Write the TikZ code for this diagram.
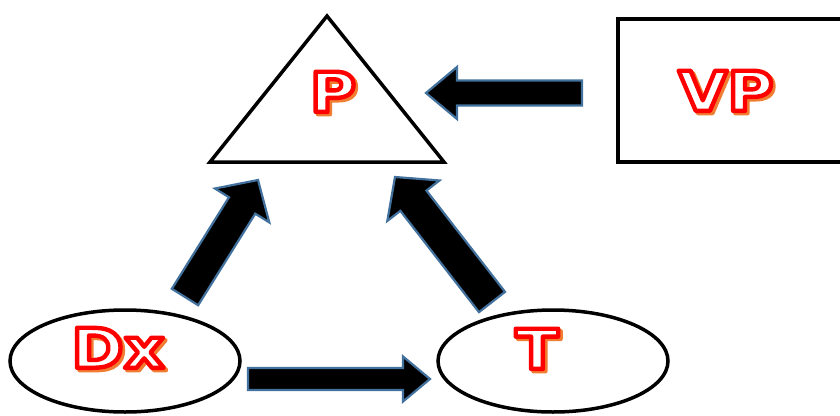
\documentclass[tikz,border=0pt]{standalone}
\usepackage{fontspec}
\usetikzlibrary{calc,shapes.geometric}
\newfontfamily\lblfont[FakeStretch=1.15]{DejaVu Sans}
\definecolor{shadoworange}{RGB}{240,125,50}
\definecolor{arrowedge}{RGB}{65,113,156}
% white letters with a red rim and an orange drop shadow (text render mode 2)
\newcommand{\rimtext}[1]{%
  \rlap{\hspace{2.4pt}\raisebox{-2.4pt}{\color{shadoworange}%
    \special{pdf:literal direct 2 Tr 4.4 w 1 j 0.941 0.490 0.196 RG}#1}}%
  {\color{white}\special{pdf:literal direct 2 Tr 4.4 w 1 j 1 0 0 RG}#1}%
  \special{pdf:literal direct 0 Tr}}
% block arrow from #1 to #2: half shaft #3, half head #4, head length #5
\newcommand{\blockarrow}[5]{%
  \coordinate (hb) at ($(#2)!#5!(#1)$);
  \draw[blockstyle]
    ($(#1)!#3!90:(#2)$) -- ($(hb)!#3!90:(#2)$) -- ($(hb)!#4!90:(#2)$) -- (#2)
    -- ($(hb)!#4!-90:(#2)$) -- ($(hb)!#3!-90:(#2)$) -- ($(#1)!#3!-90:(#2)$) -- cycle;}
\tikzset{
  outline/.style={draw=black, line width=3.5pt},
  blockstyle/.style={fill=black, draw=arrowedge, line width=2.2pt, line join=miter},
  lbl/.style={inner sep=0pt, font=\lblfont\bfseries\fontsize{55}{60}\selectfont},
}
\begin{document}
\begin{tikzpicture}[x=1pt, y=-1pt]
  \clip (0,0) rectangle (840,415);
  \fill[white] (0,0) rectangle (840,415);
  % triangle P
  \coordinate (tA) at (327,16);
  \coordinate (tB) at (210,162);
  \coordinate (tC) at (444,162);
  \draw[outline, line join=miter] (tA) -- (tB) -- (tC) -- cycle;
  \node[lbl] (p) at (333,93) {\rimtext{P}};
  % box VP
  \node[outline, rectangle, minimum width=250pt, minimum height=143pt, anchor=north west, inner sep=0pt] (vpbox) at (616,17) {};
  \node[lbl] (vp) at (726,92) {\rimtext{VP}};
  % ellipses
  \node[outline, ellipse, minimum width=230pt, minimum height=102pt, inner sep=0pt] (dxbox) at (125,361) {};
  \node[lbl] (dx) at (118,349) {\rimtext{Dx}};
  \node[outline, ellipse, minimum width=230pt, minimum height=102pt, inner sep=0pt] (tbox) at (553,361) {};
  \node[lbl] (t) at (537,350) {\rimtext{T}};
  % arrow end points
  \coordinate (vpTail) at (582,93);
  \coordinate (vpTip) at (426,93);
  \coordinate (dxtTail) at (248,379);
  \coordinate (dxtTip) at (430,379);
  \coordinate (dxpTail) at (185,297);
  \coordinate (dxpTip) at (258,180);
  \coordinate (tpTail) at (492,302);
  \coordinate (tpTip) at (395,177);
  \blockarrow{vpTail}{vpTip}{12.5pt}{26pt}{31pt}
  \blockarrow{dxtTail}{dxtTip}{11pt}{22.5pt}{27pt}
  \blockarrow{dxpTail}{dxpTip}{15.5pt}{32pt}{30pt}
  \blockarrow{tpTail}{tpTip}{16.5pt}{33pt}{30pt}
\end{tikzpicture}
\end{document}
